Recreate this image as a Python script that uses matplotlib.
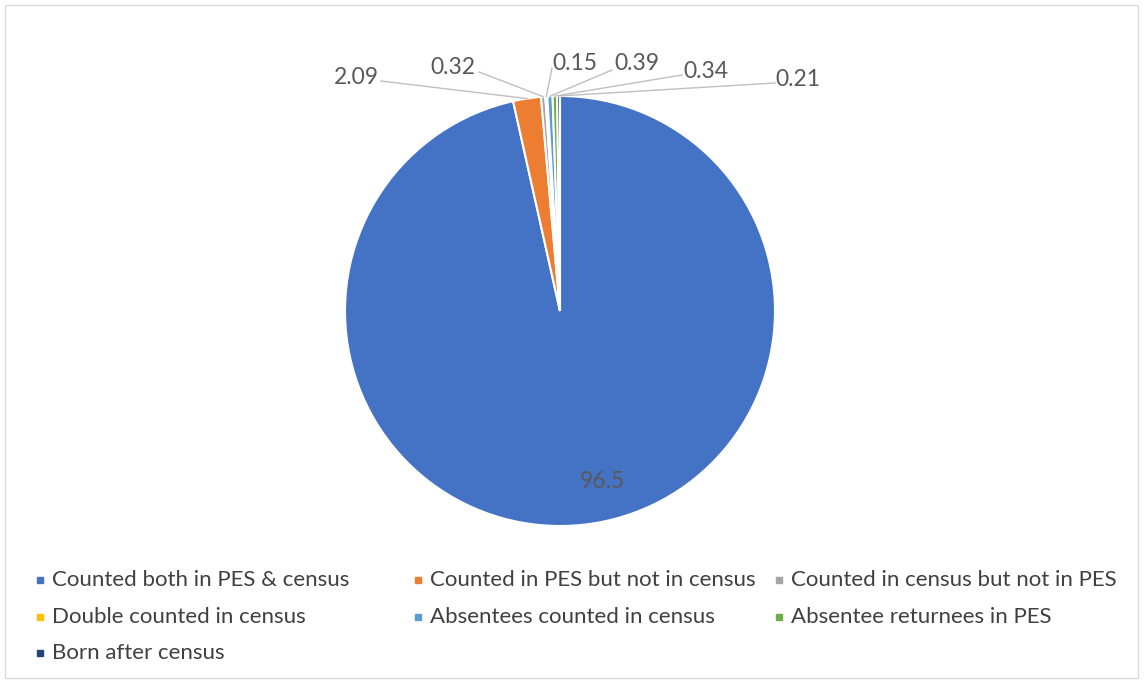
import numpy as np
import matplotlib.pyplot as plt
from matplotlib.patches import Rectangle

W, H = 1144, 682

categories = ['Counted both in PES & census', 'Counted in PES but not in census',
              'Counted in census but not in PES', 'Double counted in census',
              'Absentees counted in census', 'Absentee returnees in PES',
              'Born after census']
values = [96.5, 2.09, 0.32, 0.15, 0.39, 0.34, 0.21]
labels = ['96.5', '2.09', '0.32', '0.15', '0.39', '0.34', '0.21']
colors = ['#4472C4', '#ED7D31', '#A5A5A5', '#FFC000', '#5B9BD5', '#70AD47', '#264478']

# label text positions (pixels, top-left origin) and leader line starts
label_pos = [(602, 482), (356, 77), (453, 67), (575, 63), (637, 63), (706, 72), (798, 79)]
line_start = [None, (381, 81), (479, 72), (552, 68), (612, 70), (682, 75), (775, 83)]

plt.rcParams['font.family'] = ['Lato', 'DejaVu Sans']

fig = plt.figure(figsize=(W / 100, H / 100), dpi=100)
ax = fig.add_axes([0, 0, 1, 1])

cx, cy, r = 560, H - 311, 215
wedges, _ = ax.pie(values, colors=colors, startangle=90, counterclock=False,
                   center=(cx, cy), radius=r, frame=True,
                   wedgeprops=dict(edgecolor='white', linewidth=1.5))
ax.set_xlim(0, W)
ax.set_ylim(0, H)
ax.set_aspect('equal')
ax.axis('off')

for i, w in enumerate(wedges):
    lx, ly = label_pos[i]
    ax.text(lx, H - ly, labels[i], ha='center', va='center', fontsize=16.5, color='#595959')
    if line_start[i] is not None:
        mid = np.deg2rad((w.theta1 + w.theta2) / 2)
        ex, ey = cx + r * np.cos(mid), cy + r * np.sin(mid)
        sx, sy = line_start[i]
        ax.plot([sx, ex], [H - sy, ey], color='#BFBFBF', lw=1)

# legend
col_x = [40, 418, 779]
row_y = [580, 617, 653]
for i, (name, c) in enumerate(zip(categories, colors)):
    x = col_x[i % 3]
    y = H - row_y[i // 3]
    ax.add_patch(Rectangle((x - 3, y - 3), 6, 6, color=c))
    ax.text(x + 12, y, name, ha='left', va='center', fontsize=16, color='#404040')

# chart border
ax.add_patch(Rectangle((5, 4), W - 11, H - 9, fill=False, edgecolor='#D9D9D9', lw=1))

fig.savefig('out.png', dpi=100)
